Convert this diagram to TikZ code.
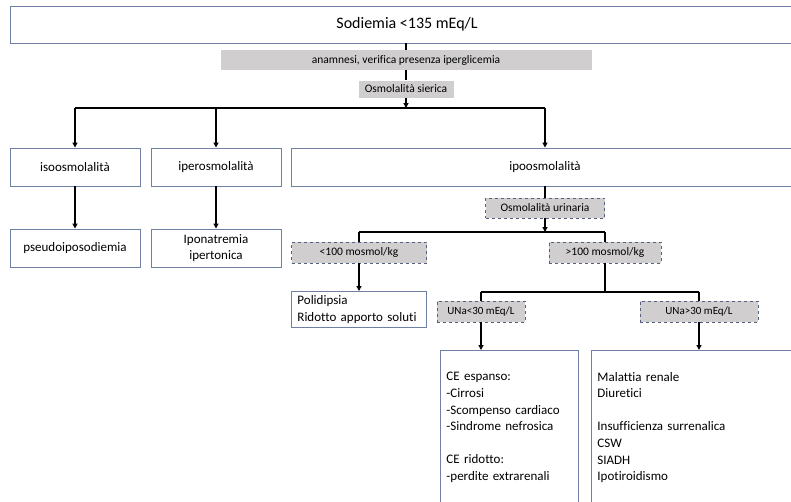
\documentclass[tikz,border=0pt]{standalone}
\usepackage{fontspec}
\setmainfont{Carlito}[Ligatures=NoCommon]
\usetikzlibrary{arrows.meta, positioning}
\definecolor{boxblue}{RGB}{112, 128, 162}
\definecolor{tagfill}{RGB}{208, 206, 206}
\definecolor{dashblue}{RGB}{84, 96, 126}

\begin{document}
\begin{tikzpicture}[x=1pt, y=-1pt,
  box/.style={draw=boxblue, line width=0.9pt, fill=white, inner sep=2pt, align=center, font=\fontsize{13}{16.5}\selectfont},
  tag/.style={fill=tagfill, inner sep=1pt, font=\fontsize{11.5}{13}\selectfont},
  dtag/.style={tag, draw=dashblue, dashed, line width=0.8pt},
  list/.style={box, anchor=north west, align=left, inner xsep=6pt, font=\fontsize{13}{16.6}\selectfont},
  link/.style={line width=1.6pt},
  arr/.style={link, -{Triangle[length=5pt, width=5pt]}}
]
  \useasboundingbox (0, 0) rectangle (791, 501);

  % Top
  \node[box, minimum width=794, minimum height=37, font=\fontsize{16}{18}\selectfont] (sod) at (407, 24.5) {Sodiemia <135 mEq/L};
  \node[tag, minimum width=371, minimum height=20] (anam) at (406, 60) {anamnesi, verifica presenza iperglicemia};
  \node[tag, minimum width=95, minimum height=17] (osms) at (406, 89) {Osmolalità sierica};
  \coordinate (s1) at (406, 108);

  \draw[link] (sod.south -| anam) -- (anam);
  \draw[link] (anam) -- (osms);
  \draw[arr] (osms) -- (s1);

  % Serum osmolality
  \node[box, minimum width=130, minimum height=38] (iso) at (75, 167) {isoosmolalità};
  \node[box, minimum width=130, minimum height=38] (iper) at (216, 167) {iperosmolalità};
  \node[box, minimum width=508, minimum height=38] (ipo) at (545, 167) {ipoosmolalità};

  \draw[link] (iso |- s1) -- (ipo |- s1);
  \draw[arr] (iso |- s1) -- (iso);
  \draw[arr] (iper |- s1) -- (iper);
  \draw[arr] (ipo |- s1) -- (ipo);

  \node[box, minimum width=130, minimum height=38] (pseudo) at (75, 248) {pseudoiposodiemia};
  \node[box, minimum width=130, minimum height=38] (ipon) at (216, 248) {Iponatremia\\ipertonica};

  \draw[arr] (iso) -- (pseudo);
  \draw[arr] (iper) -- (ipon);

  % Urinary osmolality
  \node[dtag, minimum width=119, minimum height=20] (urin) at (545, 208) {Osmolalità urinaria};
  \coordinate (s2) at (545, 232);
  \node[dtag, minimum width=135, minimum height=21] (lt100) at (359, 252.5) {<100 mosmol/kg};
  \node[dtag, minimum width=112, minimum height=21] (gt100) at (605, 252.5) {>100 mosmol/kg};

  \draw[link] (ipo) -- (urin);
  \draw[arr] (urin) -- (s2);
  \draw[link] (lt100 |- s2) -- (gt100 |- s2);
  \draw[link] (lt100 |- s2) -- (lt100);
  \draw[link] (gt100 |- s2) -- (gt100);

  \node[list, text width=123, minimum height=36] (poli) at (291, 291) {Polidipsia\\Ridotto apporto soluti};
  \draw[arr] (lt100) -- (poli.north -| lt100);

  % Urinary sodium
  \coordinate (s3) at (605, 292);
  \node[dtag, minimum width=88, minimum height=21, font=\fontsize{11}{13}\selectfont] (unalt) at (481, 311.5) {UNa<30 mEq/L};
  \node[dtag, minimum width=118, minimum height=21, font=\fontsize{11}{13}\selectfont] (unagt) at (699, 311.5) {UNa>30 mEq/L};

  \draw[link] (gt100) -- (s3);
  \draw[link] (unalt |- s3) -- (unagt |- s3);
  \draw[link] (unalt |- s3) -- (unalt);
  \draw[link] (unagt |- s3) -- (unagt);

  \node[list, text width=126, minimum height=154] (ce) at (440, 350) {CE espanso:\\-Cirrosi\\-Scompenso cardiaco\\-Sindrome nefrosica\\[16.6pt]CE ridotto:\\-perdite extrarenali};
  \node[list, text width=200, minimum height=154] (renal) at (591, 350) {Malattia renale\\Diuretici\\[16.6pt]Insufficienza surrenalica\\CSW\\SIADH\\Ipotiroidismo};

  \draw[arr] (unalt) -- (unalt |- ce.north);
  \draw[arr] (unagt) -- (unagt |- renal.north);
\end{tikzpicture}
\end{document}
